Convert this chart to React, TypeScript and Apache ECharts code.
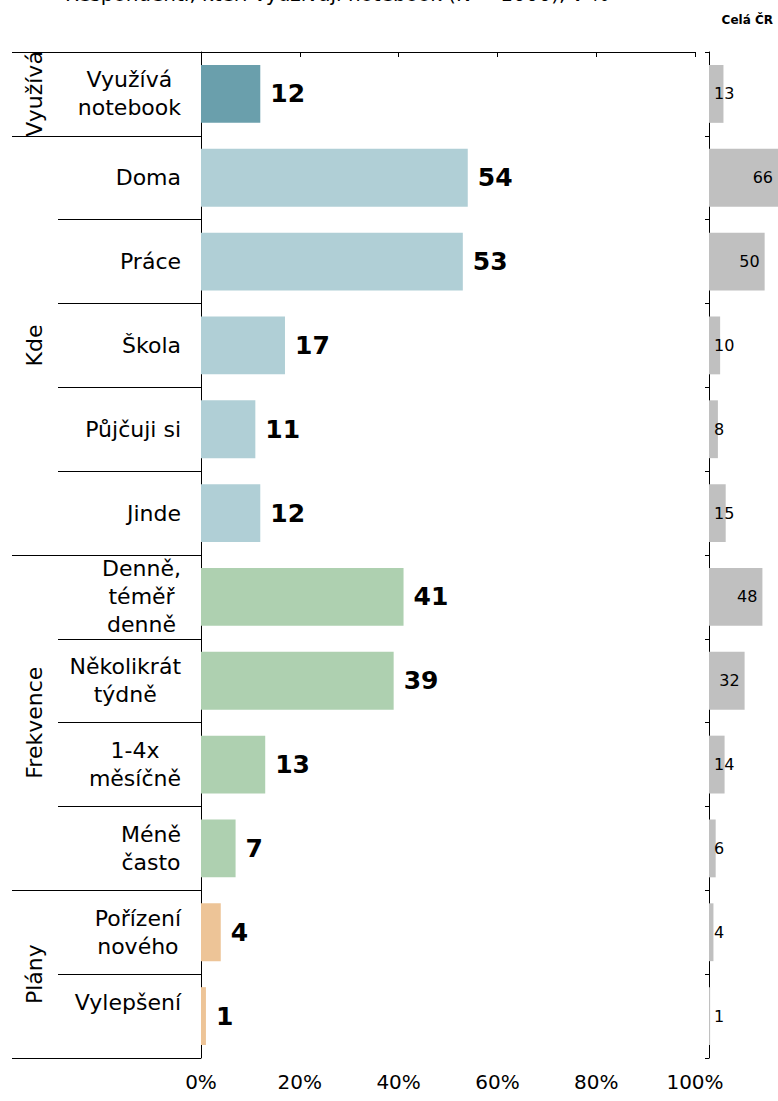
import React, { useEffect, useRef } from "react";
import * as echarts from "echarts";

const categories = [
  "Využívá\nnotebook",
  "Doma",
  "Práce",
  "Škola",
  "Půjčuji si",
  "Jinde",
  "Denně,\ntéměř\ndenně",
  "Několikrát\ntýdně",
  "1-4x\nměsíčně",
  "Méně\nčasto",
  "Pořízení\nnového",
  "Vylepšení\n ",
];
const values = [12, 54, 53, 17, 11, 12, 41, 39, 13, 7, 4, 1];
const czValues = [13, 66, 50, 10, 8, 15, 48, 32, 14, 6, 4, 1];
const groupNames = ["Využívá", "Kde", "Frekvence", "Plány"];
const groupSizes = [1, 5, 4, 2];
const groupColors = ["#6a9fac", "#b0cfd6", "#aed0b0", "#edc497"];
const xTickLabels = ["0%", "20%", "40%", "60%", "80%", "100%"];
const titleText = "Respondenti, kteří využívají notebook (N = 1000), v %";
const panelTitle = "Celá ČR";

const FONT = "DejaVu Sans";

export default function App() {
  const ref = useRef<HTMLDivElement>(null);
  useEffect(() => {
    if (!ref.current) return;
    const chart = echarts.init(ref.current, undefined, { renderer: "svg" });

    const bounds: number[] = [0];
    groupSizes.forEach((s) => bounds.push(bounds[bounds.length - 1] + s));
    const centers = groupSizes.map((s, i) => bounds[i] + s / 2);
    const total = bounds[bounds.length - 1];
    const groupOf = (idx: number) => {
      for (let g = 0; g < groupSizes.length; g++) {
        if (idx >= bounds[g] && idx < bounds[g + 1]) return g;
      }
      return groupSizes.length - 1;
    };

    const option: any = {
      animation: false,
      backgroundColor: "#ffffff",
      title: [
        {
          text: titleText,
          left: 60,
          top: -21,
          textStyle: { fontFamily: FONT, fontSize: 20, fontWeight: "normal", color: "#000" },
        },
        {
          text: panelTitle,
          right: 0,
          top: 9,
          textStyle: { fontFamily: FONT, fontSize: 12, fontWeight: "bold", color: "#000" },
        },
      ],
      grid: [
        { left: 201, top: 52, width: 494, height: 1006 },
        { left: 709, top: 52, right: 0, height: 1006 },
      ],
      xAxis: [
        {
          type: "value",
          gridIndex: 0,
          min: 0,
          max: 100,
          interval: 20,
          axisLine: { show: true, lineStyle: { color: "#000", width: 1 } },
          axisTick: { show: true, length: 5, lineStyle: { color: "#000" } },
          splitLine: { show: false },
          axisLabel: {
            formatter: (v: number) => xTickLabels[Math.round(v / 20)],
            fontFamily: FONT,
            fontSize: 20,
            color: "#000",
            margin: 14,
          },
        },
        {
          type: "value",
          gridIndex: 1,
          min: 0,
          max: 62,
          show: false,
        },
      ],
      yAxis: [
        {
          type: "category",
          gridIndex: 0,
          data: categories,
          inverse: true,
          axisLine: { show: true, lineStyle: { color: "#000", width: 1 } },
          axisTick: { show: true, length: 143, lineStyle: { color: "#000", width: 1 } },
          axisLabel: {
            margin: 20,
            formatter: (v: string) =>
              v
                .split("\n")
                .map((l) => `{c|${l}}`)
                .join("\n"),
            rich: {
              c: {
                align: "center",
                fontFamily: FONT,
                fontSize: 22,
                lineHeight: 28,
                color: "#000",
              },
            },
          },
        },
        {
          type: "value",
          gridIndex: 0,
          position: "left",
          min: 0,
          max: total,
          inverse: true,
          axisLine: { show: false },
          splitLine: { show: false },
          axisTick: {
            show: true,
            length: 189,
            customValues: bounds,
            lineStyle: { color: "#000", width: 1 },
          },
          axisLabel: {
            show: true,
            customValues: centers,
            rotate: 90,
            margin: 156,
            fontFamily: FONT,
            fontSize: 22,
            color: "#000",
            formatter: (v: number) => groupNames[groupOf(Math.floor(v))],
          },
        },
        {
          type: "category",
          gridIndex: 1,
          data: categories,
          inverse: true,
          axisLine: { show: true, lineStyle: { color: "#000", width: 1 } },
          axisTick: { show: true, length: 4, lineStyle: { color: "#000" } },
          axisLabel: { show: false },
        },
      ],
      series: [
        {
          type: "bar",
          xAxisIndex: 0,
          yAxisIndex: 0,
          barCategoryGap: "31%",
          data: values.map((v, i) => ({
            value: v,
            itemStyle: { color: groupColors[groupOf(i)] },
          })),
          label: {
            show: true,
            position: "right",
            distance: 10,
            fontFamily: FONT,
            fontSize: 25,
            fontWeight: "bold",
            color: "#000",
          },
        },
        {
          type: "bar",
          xAxisIndex: 1,
          yAxisIndex: 2,
          barCategoryGap: "31%",
          clip: true,
          itemStyle: { color: "#c0c0c0" },
          data: czValues.map((v) => ({
            value: v,
            label: {
              position: v >= 20 ? "insideRight" : "insideLeft",
              distance: 5,
            },
          })),
          label: {
            show: true,
            fontFamily: FONT,
            fontSize: 16,
            color: "#000",
          },
        },
      ],
    };
    chart.setOption(option);
    return () => chart.dispose();
  }, []);
  return (
    <div
      ref={ref}
      style={{ position: "fixed", left: 0, top: 0, width: 778, height: 1101, background: "#fff" }}
    />
  );
}
